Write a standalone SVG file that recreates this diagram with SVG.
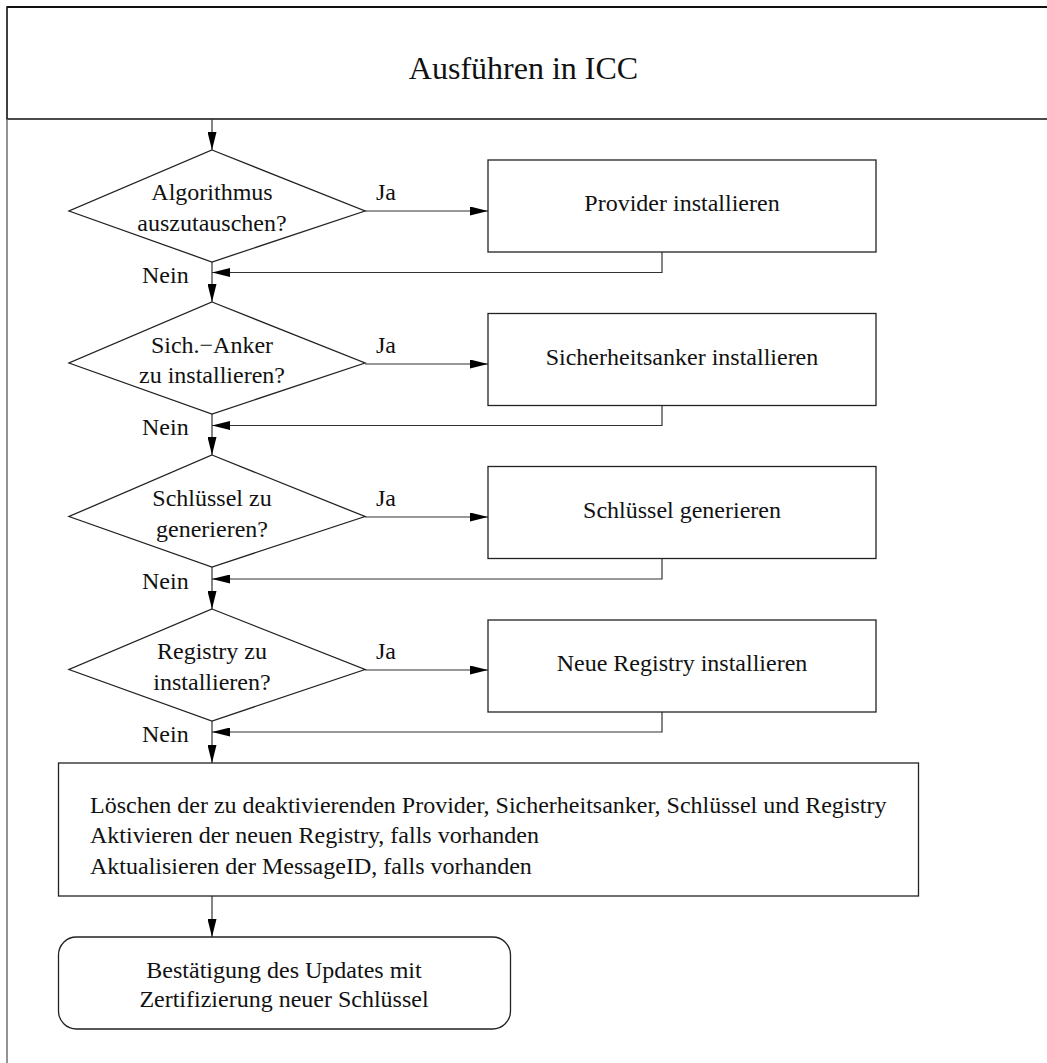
<svg xmlns="http://www.w3.org/2000/svg" width="1047" height="1063" viewBox="0 0 1047 1063">
  <style>
    text { font-family: "Liberation Serif", "Times New Roman", serif; font-size: 24px; fill: #111; }
    .mid { text-anchor: middle; }
    .shape { fill: #fff; stroke: #222; stroke-width: 1.3; }
    .conn { fill: none; stroke: #333; stroke-width: 1.2; }
    .frame { fill: none; stroke: #111; stroke-width: 1.6; }
  </style>
  <defs>
    <marker id="arrow" viewBox="0 0 18 9" refX="18" refY="4.5" markerWidth="18" markerHeight="9" markerUnits="userSpaceOnUse" orient="auto">
      <path d="M0,0 L18,4.5 L0,9 Z" fill="#000"/>
    </marker>
  </defs>
  <rect width="1047" height="1063" fill="#fff"/>

  <!-- frame with title bar -->
  <g id="title">
    <path class="frame" d="M1050,7 H7 V119 H1050"/>
    <path d="M7,7 H1050" stroke="#111" stroke-width="2.2"/>
    <line x1="7" y1="119" x2="7" y2="1063" stroke="#666" stroke-width="1.4"/>
    <text class="mid" x="523.5" y="79" style="font-size:32px">Ausführen in ICC</text>
  </g>

  <!-- connectors -->
  <g id="connectors" class="conn">
    <line x1="212" y1="119" x2="212" y2="150" marker-end="url(#arrow)"/>
    <line x1="212" y1="262" x2="212" y2="302" marker-end="url(#arrow)"/>
    <line x1="212" y1="414" x2="212" y2="455" marker-end="url(#arrow)"/>
    <line x1="212" y1="567" x2="212" y2="609" marker-end="url(#arrow)"/>
    <line x1="212" y1="721" x2="212" y2="763" marker-end="url(#arrow)"/>
    <line x1="212" y1="896" x2="212" y2="937" marker-end="url(#arrow)"/>

    <line x1="365" y1="211" x2="488" y2="211" marker-end="url(#arrow)"/>
    <line x1="365" y1="364" x2="488" y2="364" marker-end="url(#arrow)"/>
    <line x1="365" y1="517" x2="488" y2="517" marker-end="url(#arrow)"/>
    <line x1="365" y1="670" x2="488" y2="670" marker-end="url(#arrow)"/>

    <polyline points="662,252 662,272.5 212,272.5" marker-end="url(#arrow)"/>
    <polyline points="662,405 662,425.5 212,425.5" marker-end="url(#arrow)"/>
    <polyline points="662,558 662,579 212,579" marker-end="url(#arrow)"/>
    <polyline points="662,712 662,732 212,732" marker-end="url(#arrow)"/>
  </g>

  <!-- connector labels -->
  <g id="labels">
    <text x="376" y="200">Ja</text>
    <text x="376" y="353">Ja</text>
    <text x="376" y="506">Ja</text>
    <text x="376" y="659">Ja</text>
    <text x="142" y="283">Nein</text>
    <text x="142" y="435">Nein</text>
    <text x="142" y="589">Nein</text>
    <text x="142" y="742">Nein</text>
  </g>

  <!-- decisions -->
  <g id="decision-algorithmus">
    <polygon class="shape" points="212,150 365,211 212,262 69,211"/>
    <text class="mid" x="212" y="200">Algorithmus</text>
    <text class="mid" x="212" y="231">auszutauschen?</text>
  </g>
  <g id="decision-anker">
    <polygon class="shape" points="212,302 365,363 212,414 69,363"/>
    <text class="mid" x="212" y="353">Sich.−Anker</text>
    <text class="mid" x="212" y="383">zu installieren?</text>
  </g>
  <g id="decision-schluessel">
    <polygon class="shape" points="212,455 365,516.5 212,567 69,516.5"/>
    <text class="mid" x="212" y="506">Schlüssel zu</text>
    <text class="mid" x="212" y="537">generieren?</text>
  </g>
  <g id="decision-registry">
    <polygon class="shape" points="212,609 365,669.5 212,721 69,669.5"/>
    <text class="mid" x="212" y="659">Registry zu</text>
    <text class="mid" x="212" y="690">installieren?</text>
  </g>

  <!-- actions -->
  <g id="provider">
    <rect class="shape" x="488" y="160" width="388" height="92"/>
    <text class="mid" x="682" y="211">Provider installieren</text>
  </g>
  <g id="sicherheitsanker">
    <rect class="shape" x="488" y="313.5" width="388" height="92"/>
    <text class="mid" x="682" y="365">Sicherheitsanker installieren</text>
  </g>
  <g id="schluessel">
    <rect class="shape" x="488" y="466.5" width="388" height="92"/>
    <text class="mid" x="682" y="518">Schlüssel generieren</text>
  </g>
  <g id="registry">
    <rect class="shape" x="488" y="620" width="388" height="92"/>
    <text class="mid" x="682" y="671">Neue Registry installieren</text>
  </g>

  <g id="cleanup">
    <rect class="shape" x="58.5" y="763" width="860" height="133"/>
    <text x="90" y="813">Löschen der zu deaktivierenden Provider, Sicherheitsanker, Schlüssel und Registry</text>
    <text x="90" y="843">Aktivieren der neuen Registry, falls vorhanden</text>
    <text x="90" y="874">Aktualisieren der MessageID, falls vorhanden</text>
  </g>

  <g id="confirm">
    <rect class="shape" x="58.5" y="937" width="452" height="92" rx="18" ry="18"/>
    <text class="mid" x="284" y="977.5">Bestätigung des Updates mit</text>
    <text class="mid" x="284" y="1007">Zertifizierung neuer Schlüssel</text>
  </g>
</svg>
